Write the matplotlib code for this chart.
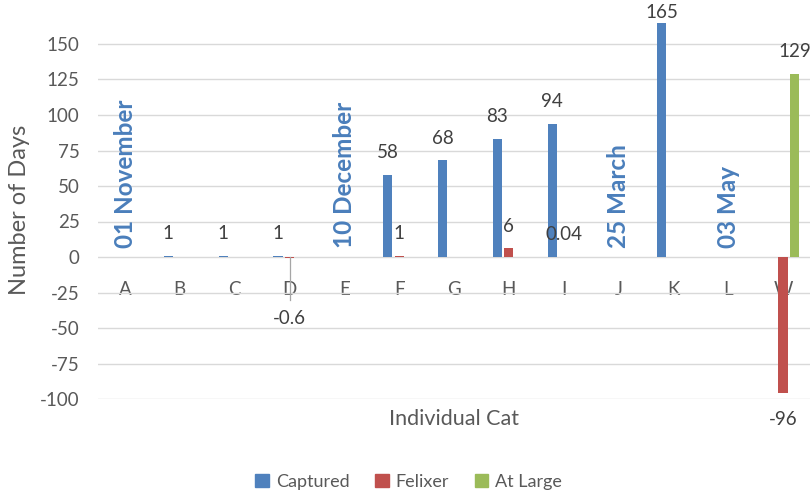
import matplotlib
matplotlib.use("Agg")
import matplotlib.pyplot as plt
from matplotlib.patches import Rectangle
import numpy as np

plt.rcParams['font.family'] = ['Lato', 'DejaVu Sans']
plt.rcParams['axes.unicode_minus'] = False

categories = ["A", "B", "C", "D", "E", "F", "G", "H", "I", "J", "K", "L", "W"]
captured = [0, 1, 1, 1, 0, 58, 68, 83, 94, 0, 165, 0, 0]
felixer = [0, 0, 0, -0.6, 0, 1, 0, 6, 0.04, 0, 0, 0, -96]
at_large = [0, 0, 0, 0, 0, 0, 0, 0, 0, 0, 0, 0, 129]
date_cats = ["A", "E", "J", "L"]
date_labels = ["01 November", "10 December", "25 March", "03 May"]
series_names = ["Captured", "Felixer", "At Large"]
yticks = list(range(-100, 151, 25))

c_blue = "#4f81bd"
c_red = "#c0504d"
c_green = "#9bbb59"
c_date = "#4a7ebb"
c_tick = "#595959"
c_lab = "#404040"

fig = plt.figure(figsize=(8.11, 4.94), dpi=100)
ax = fig.add_axes([97.6 / 811, 1 - 399 / 494, (810.4 - 97.6) / 811, (399 - 8.5) / 494])

x = np.arange(len(categories))
off = 0.21
w = 0.165
ax.bar(x - off, captured, w, color=c_blue, zorder=3)
ax.bar(x, felixer, w, color=c_red, zorder=3)
ax.bar(x + off, at_large, w, color=c_green, zorder=3)

ax.set_xlim(-0.5, len(categories) - 0.5)
ax.set_ylim(-100, 175)
ax.set_yticks(yticks)
ax.yaxis.grid(True, color="#d9d9d9", linewidth=1, zorder=0)
ax.set_axisbelow(True)
for s in ax.spines.values():
    s.set_visible(False)
ax.spines['bottom'].set_position(('data', 0))
ax.set_xticks(x)
ax.set_xticklabels(categories)
ax.tick_params(axis='x', length=0, pad=17, labelsize=13.5, labelcolor=c_tick)
ax.tick_params(axis='y', length=0, pad=13, labelsize=13.5, labelcolor=c_tick)

def label(xpos, v):
    txt = "%g" % v
    if v > 0:
        dy = 10 if v < 160 else 1
        ax.annotate(txt, (xpos, v), xytext=(0, dy), textcoords="offset points",
                    ha="center", va="bottom", fontsize=13.5, color=c_lab, annotation_clip=False)
    elif v < 0:
        ax.annotate(txt, (xpos, v), xytext=(0, -13), textcoords="offset points",
                    ha="center", va="top", fontsize=13.5, color=c_lab, annotation_clip=False)

for i, v in enumerate(captured):
    if v != 0:
        label(x[i] - off, v)
for i, v in enumerate(felixer):
    if v > 0:
        label(x[i], v)
    elif v < 0 and v > -10:
        # leader line label
        ax.plot([x[i], x[i]], [0, -30], color="#a6a6a6", lw=0.9, zorder=4)
        ax.text(x[i], -43, "%g" % v, ha="center", va="center", fontsize=13.5, color=c_lab)
    elif v < 0:
        label(x[i], v)
for i, v in enumerate(at_large):
    if v != 0:
        label(x[i] + off, v)

for c, t in zip(date_cats, date_labels):
    xi = categories.index(c)
    ax.text(xi, 6, t, rotation=90, ha="center", va="bottom", fontsize=17.5,
            fontweight="bold", color=c_date)

fig.text(20 / 811, 1 - 210 / 494, "Number of Days", rotation=90, ha="center", va="center",
         fontsize=17, color=c_tick)
fig.text(454 / 811, 1 - 419 / 494, "Individual Cat", ha="center", va="center",
         fontsize=15.5, color=c_tick)

handles = [Rectangle((0, 0), 1, 1, color=c) for c in (c_blue, c_red, c_green)]
fig.legend(handles, series_names, loc="center", bbox_to_anchor=(0.504, 1 - 482 / 494),
           ncol=3, frameon=False, fontsize=13, handlelength=0.75, handleheight=0.75,
           handletextpad=0.4, columnspacing=1.4, labelcolor=c_tick)

fig.savefig("out.png", dpi=100)
